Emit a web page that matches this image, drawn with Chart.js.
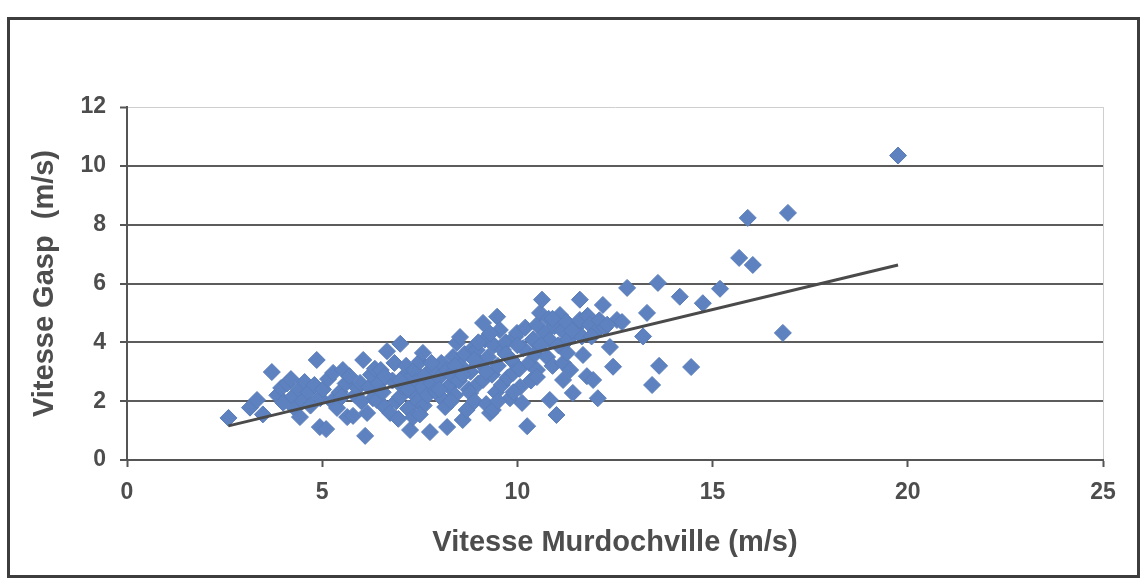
<!DOCTYPE html>
<html lang="fr">
<head>
<meta charset="utf-8">
<title>Vitesse Gasp vs Vitesse Murdochville</title>
<script src="https://cdn.jsdelivr.net/npm/chart.js@4.4.1/dist/chart.umd.min.js"></script>
<style>
    html, body { margin: 0; padding: 0; background: #fff; }
    #wrap { position: relative; width: 1142px; height: 580px; overflow: hidden; }
    #scatterChart { position: absolute; left: 0; top: 0; }
    /* outer frame of the scanned chart */
    #frame {
        position: absolute; left: 7px; top: 17px; width: 1133px; height: 561px;
        box-sizing: border-box; border: 3px solid #3d3d3d; pointer-events: none;
    }
</style>
</head>
<body>
<div id="wrap">
    <canvas id="scatterChart" width="1142" height="580"></canvas>
    <div id="frame"></div>
</div>
<script>
// Wind speed at Murdochville (x) vs Gaspé (y), m/s
const vitesseMurdochville = [
    2.6, 3.15, 3.33, 3.48, 3.71, 3.85, 3.95, 4.0, 4.1, 4.2, 4.25, 4.3, 4.4, 4.43, 4.5, 4.55,
    4.65, 4.7, 4.8, 4.86, 4.94, 4.95, 5.02, 5.1, 5.15, 5.25, 5.28, 5.38, 5.45, 5.53, 5.6, 5.64, 5.7, 5.79, 5.85, 5.9,
    5.97, 6.05, 6.1, 6.15, 6.2, 6.25, 6.3, 6.35, 6.4, 6.45,
    6.5, 6.55, 6.6, 6.66, 6.74, 6.8, 6.85, 6.9, 6.99, 7.0, 7.05, 7.1, 7.15, 7.2, 7.25, 7.3, 7.33, 7.35, 7.4, 7.45,
    7.5, 7.55, 7.58, 7.6, 7.65, 7.7, 7.76, 7.8, 7.85, 7.9, 7.94, 8.0, 8.05, 8.1, 8.15, 8.2, 8.2, 8.25, 8.3, 8.35,
    8.4, 8.45, 8.5,
    8.53, 8.55, 8.6, 8.65, 8.7, 8.75, 8.79, 8.8, 8.86, 8.9, 8.96, 9.0, 9.05, 9.12, 9.12, 9.17, 9.2, 9.25, 9.3, 9.35,
    9.37, 9.4, 9.45, 9.48, 9.5, 9.55, 9.6, 9.63, 9.7, 9.75, 9.81, 9.85, 9.89, 9.95, 9.99, 10.05, 10.07, 10.12, 10.15, 10.2,
    10.25, 10.3, 10.35, 10.4, 10.45,
    10.5, 10.5, 10.5, 10.58, 10.63, 10.7, 10.76, 10.8, 10.83, 10.83, 10.9, 10.95, 11.0, 11.05, 11.09, 11.15, 11.17, 11.17, 11.25, 11.27,
    11.3, 11.35, 11.42, 11.5, 11.6, 11.6, 11.65, 11.68, 11.78, 11.8, 11.86, 11.94, 12.0, 12.06, 12.1, 12.19, 12.24, 12.37, 12.45, 12.55,
    12.68, 12.81,
    13.22, 13.32, 13.45, 13.6, 13.63, 14.16, 14.45, 14.75, 15.19, 15.68, 15.9, 16.03, 16.8, 16.93, 19.75,
    5.5, 6.0, 6.6, 7.0, 7.2, 7.8, 8.0, 8.3, 8.6, 8.9, 9.2, 9.5, 9.7, 9.9, 10.0, 10.6, 11.4, 11.9, 12.3, 7.5,
    6.95, 8.4, 9.0, 9.3, 10.9
];
const vitesseGasp = [
    1.43, 1.78, 2.04, 1.55, 2.99, 2.2, 2.45, 1.95, 2.6, 2.75, 2.15, 1.75, 2.4, 1.46, 2.0, 2.65,
    2.3, 1.85, 2.55, 3.4, 1.12, 2.1, 2.4, 1.05, 2.75, 2.0, 2.96, 1.77, 2.3, 3.06, 2.6, 1.46, 2.85, 1.5, 2.2, 2.45,
    2.62, 3.4, 0.82, 1.6, 2.48, 2.9, 2.1, 3.1, 2.04, 2.6,
    3.06, 2.3, 1.8, 3.7, 1.6, 2.7, 3.3, 2.0, 2.14, 3.95, 2.5, 2.85, 3.2, 1.75, 1.02, 2.3, 1.46, 3.06, 2.65, 2.0,
    3.35, 2.45, 3.64, 1.85, 2.9, 2.2, 0.95, 2.6, 3.1, 2.35, 2.28, 2.8, 3.3, 2.05, 1.8, 1.12, 3.06, 2.5, 2.9, 3.5,
    2.2, 3.98, 2.7,
    4.18, 3.2, 1.36, 3.6, 1.7, 2.4, 2.28, 3.0, 3.8, 2.0, 3.74, 2.6, 3.3, 4.66, 2.72, 4.1, 1.9, 3.5, 1.6, 2.9,
    1.7, 3.9, 2.3, 4.87, 3.2, 4.42, 2.55, 3.74, 4.0, 2.8, 2.1, 3.4, 2.96, 4.2, 4.32, 3.1, 2.48, 1.94, 3.8, 4.5,
    1.15, 3.3, 2.7, 4.1, 3.6,
    4.59, 3.06, 2.82, 5.0, 5.45, 4.3, 3.5, 4.8, 4.08, 2.04, 3.2, 4.55, 1.53, 3.9, 4.93, 4.4, 3.3, 2.72, 4.7, 3.64,
    4.1, 3.06, 2.28, 4.5, 5.45, 4.76, 4.2, 3.57, 2.85, 4.9, 4.6, 2.72, 4.35, 2.1, 4.75, 5.27, 4.5, 3.84, 3.17, 4.76,
    4.69, 5.85,
    4.2, 5.0, 2.55, 6.02, 3.2, 5.55, 3.16, 5.33, 5.82, 6.87, 8.23, 6.63, 4.32, 8.4, 10.35,
    2.15, 2.0, 2.85, 2.7, 2.4, 3.3, 2.4, 2.0, 2.9, 3.4, 3.0, 2.0, 3.6, 2.3, 3.9, 3.9, 4.4, 4.2, 4.6, 1.55,
    1.4, 3.2, 4.0, 4.3, 4.8
];

// Linear trend line, end points
const trendX = [2.6, 19.75];
const trendY = [1.16, 6.63];

// Axis ticks
const xTicks = [0, 5, 10, 15, 20, 25];
const yTicks = [0, 2, 4, 6, 8, 10, 12];

const FONT = '"Liberation Sans", Arial, sans-serif';
const TEXT = '#4d4d4d';
const AXIS = '#555555';
const GRID = '#5c5c5c';
const EDGE = '#cfcfcf';

const points = vitesseMurdochville.map((x, i) => ({ x: x, y: vitesseGasp[i] }));
const trend = trendX.map((x, i) => ({ x: x, y: trendY[i] }));

const ctx = document.getElementById('scatterChart');
new Chart(ctx, {
    type: 'scatter',
    data: {
        datasets: [
            {
                label: 'Tendance',
                data: trend,
                showLine: true,
                borderColor: '#4a4a4a',
                borderWidth: 3,
                pointRadius: 0,
                fill: false,
                order: 0
            },
            {
                label: 'Vitesse',
                data: points,
                pointStyle: 'rectRot',
                pointRadius: 8.5,
                backgroundColor: '#5e82bf',
                borderColor: '#5a7dba',
                borderWidth: 1,
                order: 1
            }
        ]
    },
    options: {
        responsive: false,
        animation: false,
        devicePixelRatio: 1,
        layout: {
            padding: { top: 107, right: 39, left: 0, bottom: 0 }
        },
        plugins: {
            legend: { display: false },
            tooltip: { enabled: false }
        },
        scales: {
            x: {
                type: 'linear',
                min: 0,
                max: 25,
                afterBuildTicks: scale => { scale.ticks = xTicks.map(v => ({ value: v })); },
                afterFit: scale => { scale.height = 120; },
                border: { color: AXIS, width: 2 },
                grid: {
                    color: c => (c.tick && c.tick.value === 25) ? EDGE : 'rgba(0,0,0,0)',
                    lineWidth: 1,
                    drawTicks: true,
                    tickLength: 7,
                    tickColor: AXIS,
                    tickWidth: 2
                },
                ticks: {
                    font: { family: FONT, size: 23, weight: 'bold' },
                    color: TEXT,
                    padding: 12
                },
                title: {
                    display: true,
                    text: 'Vitesse Murdochville (m/s)',
                    font: { family: FONT, size: 29, weight: 'bold' },
                    color: TEXT,
                    padding: { top: 0, bottom: 20 }
                }
            },
            y: {
                type: 'linear',
                min: 0,
                max: 12,
                afterBuildTicks: scale => { scale.ticks = yTicks.map(v => ({ value: v })); },
                afterFit: scale => { scale.width = 127; },
                border: { color: AXIS, width: 2 },
                grid: {
                    color: c => {
                        if (!c.tick) return GRID;
                        if (c.tick.value === 12) return EDGE;
                        if (c.tick.value === 0) return 'rgba(0,0,0,0)';
                        return GRID;
                    },
                    lineWidth: c => (c.tick && c.tick.value === 12) ? 1 : 2,
                    drawTicks: true,
                    tickLength: 7,
                    tickColor: AXIS,
                    tickWidth: 2
                },
                ticks: {
                    font: { family: FONT, size: 23, weight: 'bold' },
                    color: TEXT,
                    padding: 14
                },
                title: {
                    display: true,
                    text: 'Vitesse Gasp  (m/s)',
                    font: { family: FONT, size: 29, weight: 'bold' },
                    color: TEXT,
                    padding: { top: 28, bottom: 0 }
                }
            }
        }
    }
});
</script>
</body>
</html>
